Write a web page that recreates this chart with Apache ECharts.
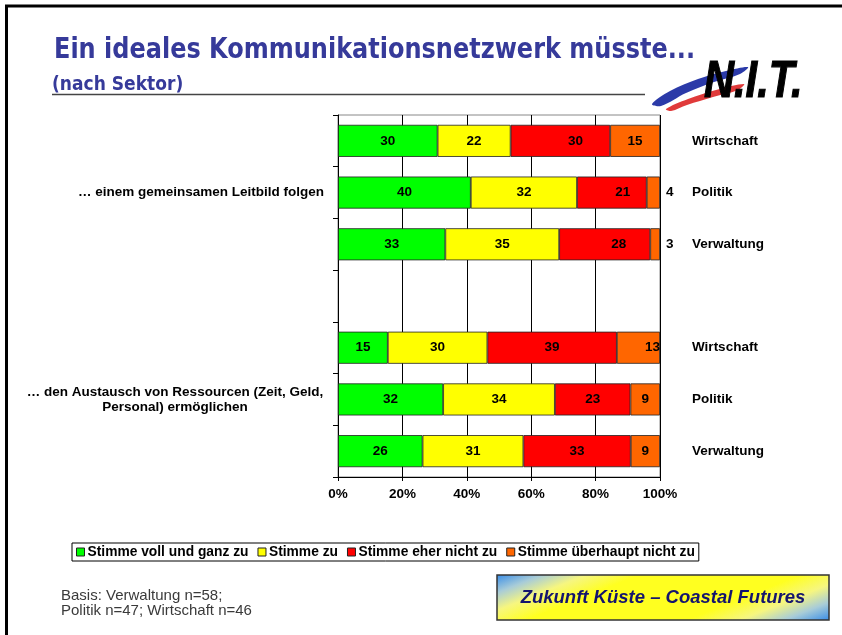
<!DOCTYPE html>
<html>
<head>
<meta charset="utf-8">
<script src="https://cdn.jsdelivr.net/npm/echarts@6/dist/echarts.min.js"></script>
<style>
  html, body { margin: 0; padding: 0; background: #fff; }
  #chart { width: 842px; height: 635px; }
</style>
</head>
<body>
<div id="chart"></div>
<script>
// Survey answers, in percent, per statement and sector
const sectors = ['Wirtschaft', 'Politik', 'Verwaltung'];
const questions = [
  '… einem gemeinsamen Leitbild folgen',
  '… den Austausch von Ressourcen (Zeit, Geld,\nPersonal) ermöglichen'
];
const answerNames = ['Stimme voll und ganz zu', 'Stimme zu', 'Stimme eher nicht zu', 'Stimme überhaupt nicht zu'];

// rows: Leitbild (Wirtschaft, Politik, Verwaltung), Ressourcen (Wirtschaft, Politik, Verwaltung)
const stimmeVoll = [30, 40, 33, 15, 32, 26];
const stimmeZu = [22, 32, 35, 30, 34, 31];
const eherNicht = [30, 21, 28, 39, 23, 33];
const ueberhauptNicht = [15, 4, 3, 13, 9, 9];

const xTickLabels = ['0%', '20%', '40%', '60%', '80%', '100%'];

const answers = [stimmeVoll, stimmeZu, eherNicht, ueberhauptNicht];
const colors = ['#00FF00', '#FFFF00', '#FF0000', '#FF6600'];

// seven bar slots: three sectors, an empty gap, three sectors
const slots = [0, 1, 2, null, 3, 4, 5];
const rowTotals = stimmeVoll.map((_, r) => answers.reduce((s, a) => s + a[r], 0));

const FONT = "'Liberation Sans', Arial, Helvetica, sans-serif";
const boldText = { fontFamily: FONT, fontWeight: 'bold', fontSize: 13.5, color: '#000' };

// label placement tweaks for individual segments
function labelFor(seriesIdx, row) {
  if (seriesIdx === 2 && row <= 2) return { offset: [[15, 0], [11, 0], [14, 0]][row] };
  if (seriesIdx === 3 && (row === 1 || row === 2)) return { position: 'right', distance: 6 };
  if (seriesIdx === 3 && row === 3) return { offset: [14, 0] };
  return undefined;
}

const series = answers.map((arr, si) => ({
  name: answerNames[si],
  type: 'bar',
  stack: 'total',
  yAxisIndex: 0,
  barCategoryGap: '38%',
  itemStyle: { color: colors[si], borderColor: '#222', borderWidth: 0.8 },
  label: {
    show: true,
    position: 'inside',
    ...boldText,
    formatter: p => p.data && p.data.raw != null ? String(p.data.raw) : ''
  },
  data: slots.map(r => {
    if (r === null) return '-';
    const item = { value: arr[r] / rowTotals[r] * 100, raw: arr[r] };
    const l = labelFor(si, r);
    if (l) item.label = l;
    return item;
  })
}));

const sectorLabels = slots.map(r => (r === null ? '' : sectors[r % 3]));
const leftLabelsA = slots.map((r, i) => (i === 1 ? questions[0] : ''));
const leftLabelsB = slots.map((r, i) => (i === 5 ? questions[1] : ''));

const titleColor = '#363A9A';

const chart = echarts.init(document.getElementById('chart'), null, { renderer: 'canvas' });
chart.setOption({
  backgroundColor: '#fff',
  animation: false,
  textStyle: { fontFamily: FONT },
  grid: {
    left: 338, right: 182, top: 115, bottom: 158,
    containLabel: false, outerBoundsMode: 'none',
    show: true, borderColor: '#888', borderWidth: 1, backgroundColor: 'transparent'
  },
  legend: {
    left: 72, top: 543,
    orient: 'horizontal',
    icon: 'rect',
    itemWidth: 8, itemHeight: 8, itemGap: 9,
    borderColor: '#000', borderWidth: 1,
    padding: [2, 4, 2, 4],
    textStyle: { ...boldText, fontSize: 13.8, padding: [0, 0, 0, -2] },
    itemStyle: { borderColor: '#222', borderWidth: 1 },
    data: answerNames
  },
  xAxis: {
    type: 'value', min: 0, max: 100, interval: 20,
    axisLine: { show: true, lineStyle: { color: '#000', width: 1 } },
    axisTick: { show: true, length: 4, lineStyle: { color: '#000' } },
    splitLine: { show: true, lineStyle: { color: '#000', width: 1 } },
    axisLabel: { ...boldText, margin: 10, formatter: v => xTickLabels[Math.round(v / 20)] }
  },
  yAxis: [
    {
      type: 'category', position: 'left', inverse: true, data: leftLabelsA,
      axisLine: { show: true, lineStyle: { color: '#000', width: 1 } },
      axisTick: { show: true, length: 5, lineStyle: { color: '#000' } },
      splitLine: { show: false },
      axisLabel: { ...boldText, interval: 0, margin: 14 }
    },
    {
      type: 'category', position: 'right', inverse: true, data: sectorLabels,
      axisLine: { show: false }, axisTick: { show: false }, splitLine: { show: false },
      axisLabel: { ...boldText, interval: 0, margin: 32, padding: [0, 0, 8, 0] }
    },
    {
      type: 'category', position: 'left', offset: 0, inverse: true, data: leftLabelsB,
      axisLine: { show: false }, axisTick: { show: false }, splitLine: { show: false },
      axisLabel: { ...boldText, interval: 0, margin: 163, align: 'center', lineHeight: 15 }
    }
  ],
  series: series,
  graphic: [
    // slide frame
    { type: 'rect', silent: true, shape: { x: 6.5, y: 6, width: 900, height: 700 },
      style: { fill: 'none', stroke: '#000', lineWidth: 3 } },
    // heading
    { type: 'text', x: 54, y: 36, scaleX: 0.92, style: { text: 'Ein ideales Kommunikationsnetzwerk müsste...',
      fill: titleColor, fontWeight: 'bold', fontSize: 29, fontFamily: "'DejaVu Sans Condensed', 'Liberation Sans', sans-serif" } },
    { type: 'text', x: 52, y: 75, scaleX: 0.95, style: { text: '(nach Sektor)',
      fill: titleColor, fontWeight: 'bold', fontSize: 20, fontFamily: "'DejaVu Sans Condensed', 'Liberation Sans', sans-serif" } },
    { type: 'line', shape: { x1: 52, y1: 94.5, x2: 645, y2: 94.5 }, style: { stroke: '#444', lineWidth: 1.5 } },
    // N.I.T. logo
    { type: 'polygon', shape: { smooth: 0.35, points: [[652, 104], [670, 91], [698, 79], [726, 71], [748, 67], [740, 74], [714, 82], [686, 93], [661, 106]] },
      style: { fill: '#2B3AA8' } },
    { type: 'polygon', shape: { smooth: 0.35, points: [[666, 109], [688, 99], [716, 90], [744, 84], [738, 90], [713, 97], [687, 105], [671, 111]] },
      style: { fill: '#E03A3A' } },
    { type: 'text', x: 704, y: 57, scaleX: 0.8, style: { text: 'N.I.T.', fill: '#000',
      stroke: '#000', lineWidth: 1.2,
      fontStyle: 'italic', fontWeight: 'bold', fontSize: 52, fontFamily: "'Liberation Sans', Arial, sans-serif" } },
    // sample sizes
    { type: 'text', x: 61, y: 588, style: { text: 'Basis: Verwaltung n=58;\nPolitik n=47; Wirtschaft n=46',
      fill: '#3a3a3a', fontSize: 15, fontFamily: "'Liberation Sans', Arial, sans-serif", lineHeight: 15 } },
    // project box
    { type: 'rect', shape: { x: 497, y: 575, width: 332, height: 45 },
      style: {
        fill: new echarts.graphic.LinearGradient(497, 575, 557.6, 727.7, [
          { offset: 0, color: '#3A8EE8' },
          { offset: 0.1, color: '#A8CCD8' },
          { offset: 0.2, color: '#F6F680' },
          { offset: 0.32, color: '#FFFF20' },
          { offset: 0.68, color: '#FFFF20' },
          { offset: 0.8, color: '#F6F680' },
          { offset: 0.9, color: '#A8CCD8' },
          { offset: 1, color: '#3A8EE8' }
        ], true),
        stroke: '#333', lineWidth: 1.5
      } },
    { type: 'text', x: 663, y: 598, style: { text: 'Zukunft Küste – Coastal Futures',
      fill: '#14146E', align: 'center', verticalAlign: 'middle',
      fontStyle: 'italic', fontWeight: 'bold', fontSize: 18.5, fontFamily: "'Liberation Sans', Arial, sans-serif" } }
  ]
});
</script>
</body>
</html>
